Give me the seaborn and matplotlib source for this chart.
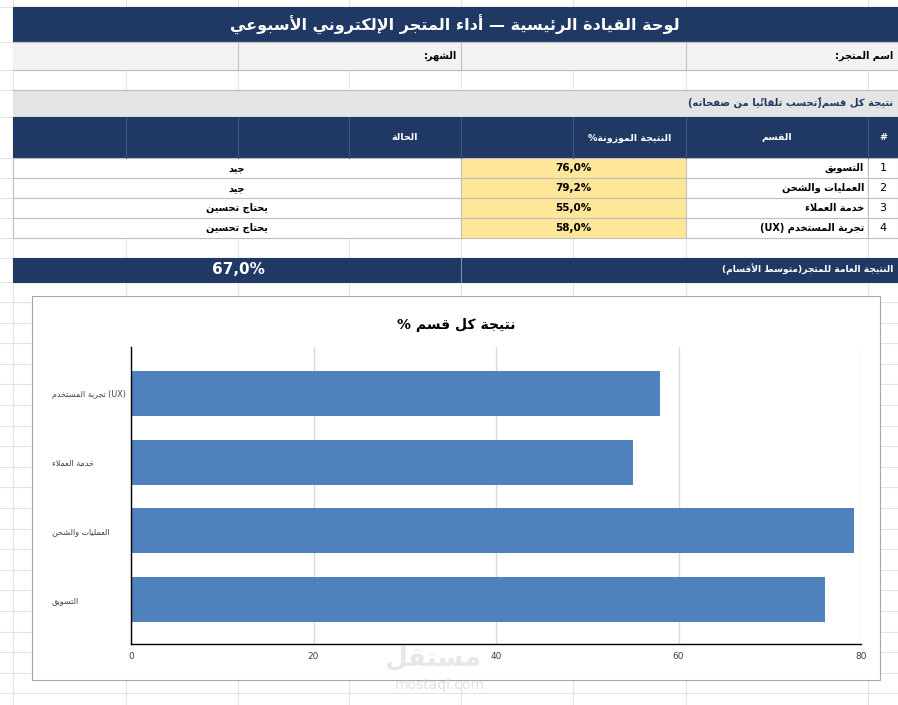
import re

import matplotlib

matplotlib.use("Agg")
import matplotlib.pyplot as plt
import pandas as pd
import seaborn as sns
from matplotlib.patches import Rectangle

# --- data ---
DEPARTMENTS = ["التسويق", "العمليات والشحن", "خدمة العملاء", "تجربة المستخدم (UX)"]
SCORES = [76.0, 79.2, 55.0, 58.0]
STATUS = ["جيد", "جيد", "يحتاج تحسين", "يحتاج تحسين"]
OVERALL = 67.0
X_TICKS = [0, 20, 40, 60, 80]

TITLE = "لوحة القيادة الرئيسية — أداء المتجر الإلكتروني الأسبوعي"
STORE_LABEL = "اسم المتجر:"
MONTH_LABEL = "الشهر:"
SECTION_LABEL = "نتيجة كل قسم(تُحسب تلقائيًا من صفحاته)"
HEADERS = ["#", "القسم", "النتيجة الموزونة%", "الحالة"]
OVERALL_LABEL = "النتيجة العامة للمتجر(متوسط الأقسام)"
CHART_TITLE = "نتيجة كل قسم %"

NAVY = "#1F3864"
YELLOW = "#FFE699"
BAR = "#4F81BD"
CELL_LINE = "#BFBFBF"
SHEET_LINE = "#E3E3E3"

# --- tiny arabic shaper (matplotlib draws glyphs left to right, no shaping) ---
DUAL = "ئبتثجحخسشصضطظعغفقكلمنهي"
ORDER = "ءآأؤإئابةتثجحخدذرزسشصضطظعغفقكلمنهوىي"
FORMS = {}
code = 0xFE80
for ch in ORDER:
    n = 1 if ch == "ء" else (4 if ch in DUAL else 2)
    FORMS[ch] = [chr(code + k) for k in range(n)]
    code += n
LAM_ALEF = {"آ": 0xFEF5, "أ": 0xFEF7, "إ": 0xFEF9, "ا": 0xFEFB}
MARKS = set(chr(c) for c in range(0x064B, 0x0653))
MIRROR = {"(": ")", ")": "("}


def shape(text):
    chars = list(text)
    n = len(chars)
    out = []
    i = 0
    while i < n:
        ch = chars[i]
        if ch not in FORMS:
            out.append(ch)
            i += 1
            continue
        k = i - 1
        while k >= 0 and chars[k] in MARKS:
            k -= 1
        joins_prev = k >= 0 and chars[k] in DUAL
        j = i + 1
        while j < n and chars[j] in MARKS:
            j += 1
        nxt = chars[j] if j < n else None
        if ch == "ل" and nxt in LAM_ALEF:
            out.append(chr(LAM_ALEF[nxt] + (1 if joins_prev else 0)))
            out.extend(chars[i + 1:j])
            i = j + 1
            continue
        joins_next = ch in DUAL and nxt in FORMS and nxt != "ء"
        forms = FORMS[ch]
        if len(forms) == 1:
            out.append(forms[0])
        elif len(forms) == 2:
            out.append(forms[1] if joins_prev else forms[0])
        else:
            out.append(forms[[[0, 2], [1, 3]][joins_prev][joins_next]])
        i += 1
    return "".join(out)


def clusters(s):
    out = []
    for ch in s:
        if ch in MARKS and out:
            out[-1] += ch
        else:
            out.append(ch)
    return out


def ar(text, rtl=True):
    s = shape(text)
    if rtl:
        v = "".join(MIRROR.get(c, c) for c in reversed(clusters(s)))
        return re.sub(r"[A-Za-z0-9]+", lambda m: m.group()[::-1], v)
    pat = r"[\u0600-\u06FF\uFE70-\uFEFF]+(?:\s+[\u0600-\u06FF\uFE70-\uFEFF]+)*"
    return re.sub(pat, lambda m: "".join(reversed(clusters(m.group()))), s)


def pct(v):
    return f"{v:.1f}%".replace(".", ",")


plt.rcParams["font.family"] = ["DejaVu Sans"]

W, H = 898, 705
fig = plt.figure(figsize=(W / 100, H / 100), dpi=100)
fig.patch.set_facecolor("white")

# sheet layer in pixel coordinates
bg = fig.add_axes([0, 0, 1, 1])
bg.set_xlim(0, W)
bg.set_ylim(H, 0)
bg.axis("off")

cols = [13, 126, 238, 349, 461, 573, 686, 868]
rows = [7, 42, 70, 90, 117, 158, 178, 198, 218, 238, 258, 282]
y = 302.0
while y < H:
    rows.append(y)
    y += 20.6
for cx in cols:
    bg.plot([cx, cx], [0, H], color=SHEET_LINE, lw=0.8, zorder=0)
for ry in rows:
    bg.plot([0, W], [ry, ry], color=SHEET_LINE, lw=0.8, zorder=0)


def box(x0, y0, x1, y1, fc, ec=None, z=1):
    bg.add_patch(Rectangle((x0, y0), x1 - x0, y1 - y0, facecolor=fc,
                           edgecolor=ec or fc, lw=0.8, zorder=z))


def vline(x, y0, y1, color=CELL_LINE):
    bg.plot([x, x], [y0, y1], color=color, lw=0.8, zorder=2)


def hline(y, x0=13, x1=W, color=CELL_LINE):
    bg.plot([x0, x1], [y, y], color=color, lw=0.8, zorder=2)


# title band
box(13, 7, W, 42, NAVY)
bg.text(455, 25, ar(TITLE), color="white", fontsize=11.5, fontweight="bold",
        ha="center", va="center", zorder=3)

# store / month row
box(13, 42, W, 70, "#F2F2F2")
for cx in [238, 461, 686]:
    vline(cx, 42, 70)
hline(42)
hline(70)
bg.text(893, 56, ar(STORE_LABEL), fontsize=7, fontweight="bold",
        ha="right", va="center", zorder=3)
bg.text(457, 56, ar(MONTH_LABEL), fontsize=7, fontweight="bold",
        ha="right", va="center", zorder=3)

# section header
box(13, 90, W, 117, "#E4E4E4")
hline(90)
bg.text(893, 103, ar(SECTION_LABEL), fontsize=7.2, fontweight="bold",
        color=NAVY, ha="right", va="center", zorder=3)

# table header
box(13, 117, W, 158, NAVY)
for cx in cols[1:]:
    vline(cx, 117, 158, color="#40557F")
head_x = [883, 777, 630, 405]
for hx, label in zip(head_x, HEADERS):
    bg.text(hx, 138, ar(label), color="white", fontsize=6.8,
            fontweight="bold", ha="center", va="center", zorder=3)

# data rows
for i, (dept, score, status) in enumerate(zip(DEPARTMENTS, SCORES, STATUS)):
    y0 = 158 + 20 * i
    y1 = y0 + 20
    ym = (y0 + y1) / 2
    box(13, y0, 461, y1, "white", CELL_LINE)
    box(461, y0, 686, y1, YELLOW, CELL_LINE)
    box(686, y0, 868, y1, "white", CELL_LINE)
    box(868, y0, W, y1, "white", CELL_LINE)
    bg.text(883, ym, str(i + 1), fontsize=8, ha="center", va="center", zorder=3)
    bg.text(864, ym, ar(dept), fontsize=7, fontweight="bold",
            ha="right", va="center", zorder=3)
    bg.text(573, ym, pct(score), fontsize=7.5, fontweight="bold",
            ha="center", va="center", zorder=3)
    bg.text(237, ym, ar(status), fontsize=7, fontweight="bold",
            ha="center", va="center", zorder=3)

# overall row
box(13, 258, W, 282, NAVY)
vline(461, 258, 282, color="#8090B0")
bg.text(893, 269, ar(OVERALL_LABEL), color="white", fontsize=6.6,
        fontweight="bold", ha="right", va="center", zorder=3)
bg.text(238, 270, pct(OVERALL), color="white", fontsize=11,
        fontweight="bold", ha="center", va="center", zorder=3)

# chart frame
box(32, 296, 880, 680, "white", "#A6A6A6", z=4)
bg.text(456, 325, ar(CHART_TITLE), fontsize=10, fontweight="bold",
        ha="center", va="center", zorder=5)

# watermark
bg.text(432, 658, ar("مستقل"), fontsize=19, fontweight="bold",
        color="#E2E2E2", ha="center", va="center", zorder=6, alpha=0.8)
bg.text(440, 685, "mostaql.com", fontsize=10, color="#DADADA",
        ha="center", va="center", zorder=6, alpha=0.8)

# bar chart
df = pd.DataFrame({"dept": [ar(d, rtl=False) for d in DEPARTMENTS],
                   "score": SCORES})
order = df["dept"][::-1].tolist()

ax = fig.add_axes([131 / W, 1 - 644 / H, 730 / W, 297 / H])
ax.set_zorder(5)
ax.patch.set_alpha(0)
sns.barplot(data=df, x="score", y="dept", order=order, color=BAR,
            saturation=1, width=0.655, ax=ax)
ax.set_xlim(0, 80)
ax.set_xticks(X_TICKS)
ax.set_ylim(3.65, -0.68)
ax.xaxis.grid(True, color="#D9D9D9", lw=1)
ax.set_axisbelow(True)
for side in ["top", "right"]:
    ax.spines[side].set_visible(False)
for side in ["left", "bottom"]:
    ax.spines[side].set_color("black")
    ax.spines[side].set_linewidth(1)
ax.set_xlabel("")
ax.set_ylabel("")
ax.tick_params(axis="x", length=0, labelsize=6.5, colors="#404040", pad=6)
ax.tick_params(axis="y", length=0, labelsize=5.8, colors="#404040", pad=57)
for lbl in ax.get_yticklabels():
    lbl.set_ha("left")

fig.savefig("out.png", dpi=100)
